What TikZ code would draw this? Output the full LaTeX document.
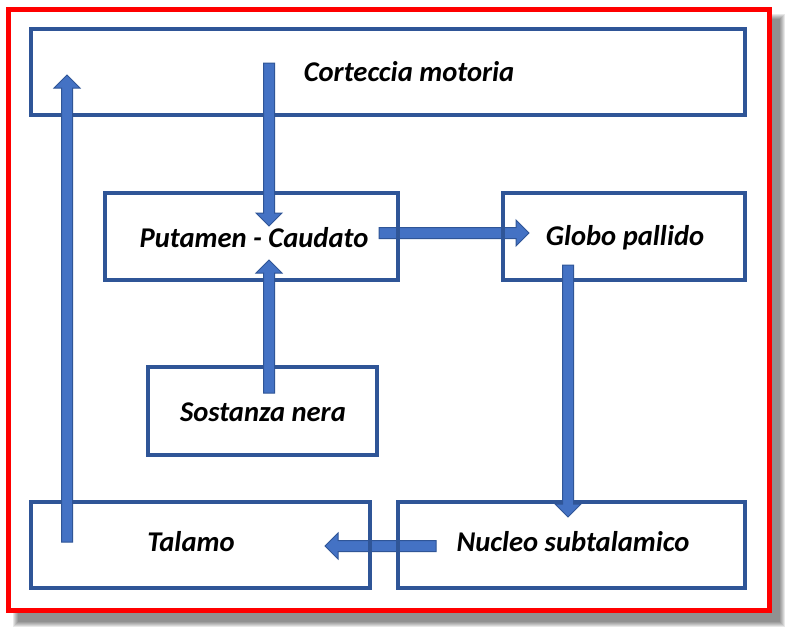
\documentclass[tikz,border=0pt]{standalone}
\usepackage{fontspec}
\setmainfont{Carlito}
\usetikzlibrary{calc}
\definecolor{boxblue}{HTML}{2F5597}
\definecolor{arrfill}{HTML}{4472C4}
\definecolor{arrline}{HTML}{2F5597}
\tikzset{
  box/.style={draw=boxblue, line width=3.5pt, inner sep=0pt, rectangle},
  lbl/.style={inner sep=0pt, font=\fontsize{28.6}{32}\selectfont\bfseries\itshape, text=black},
  blockarrow/.style={draw=arrline, fill=arrfill, line width=1pt, line join=miter,
    to path={let \p1=(\tikztostart), \p2=(\tikztotarget), \p3=($(\p2)!13pt!(\p1)$) in
      ($(\p1)!5.5pt!90:(\p2)$) -- ($(\p3)!5.5pt!90:(\p2)$) -- ($(\p3)!13pt!90:(\p2)$)
      -- (\p2) -- ($(\p3)!13pt!-90:(\p2)$) -- ($(\p3)!5.5pt!-90:(\p2)$)
      -- ($(\p1)!5.5pt!-90:(\p2)$) -- cycle}}
}
\begin{document}
\begin{tikzpicture}[x=1pt,y=-1pt]
\useasboundingbox (0,0) rectangle (790,632);
% shadow
\foreach \i in {0,...,5}
  \fill[black,opacity=0.09] (13+\i,14+\i) rectangle (785-\i,627-\i);
% frame
\draw[red, line width=5pt, fill=white] (8.5,9) rectangle (769,610);

% arrow end points
\coordinate (a1s) at (269,63);   \coordinate (a1e) at (269,226);
\coordinate (a2s) at (269,393);  \coordinate (a2e) at (269,260);
\coordinate (a3s) at (379,233);  \coordinate (a3e) at (529,233);
\coordinate (a4s) at (568,265);  \coordinate (a4e) at (568,517);
\coordinate (a5s) at (436,546);  \coordinate (a5e) at (325,546);
\coordinate (a6s) at (67,542);   \coordinate (a6e) at (67,75);

% horizontal arrows (under box borders)
\draw[blockarrow] (a3s) to (a3e);
\draw[blockarrow] (a5s) to (a5e);

% boxes
\node[box, minimum width=714pt, minimum height=86pt] (cm) at (388,72) {};
\node[box, minimum width=293pt, minimum height=87pt] (pc) at (251.5,236.5) {};
\node[box, minimum width=242pt, minimum height=87pt] (gp) at (624,236.5) {};
\node[box, minimum width=229pt, minimum height=88pt] (sn) at (262.5,411) {};
\node[box, minimum width=339pt, minimum height=86pt] (ta) at (200.5,545) {};
\node[box, minimum width=347pt, minimum height=86pt] (ns) at (571.5,545) {};

% vertical arrows (over box borders)
\draw[blockarrow] (a1s) to (a1e);
\draw[blockarrow] (a2s) to (a2e);
\draw[blockarrow] (a4s) to (a4e);
\draw[blockarrow] (a6s) to (a6e);

% labels
\node[lbl] (cmt) at (409,71.5) {Corteccia motoria};
\node[lbl] (pct) at (254,237.5) {Putamen - Caudato};
\node[lbl] (gpt) at (625,237.5) {Globo pallido};
\node[lbl] (snt) at (263,412.5) {Sostanza nera};
\node[lbl] (tat) at (191,541.5) {Talamo};
\node[lbl] (nst) at (573,541.5) {Nucleo subtalamico};
\end{tikzpicture}
\end{document}
